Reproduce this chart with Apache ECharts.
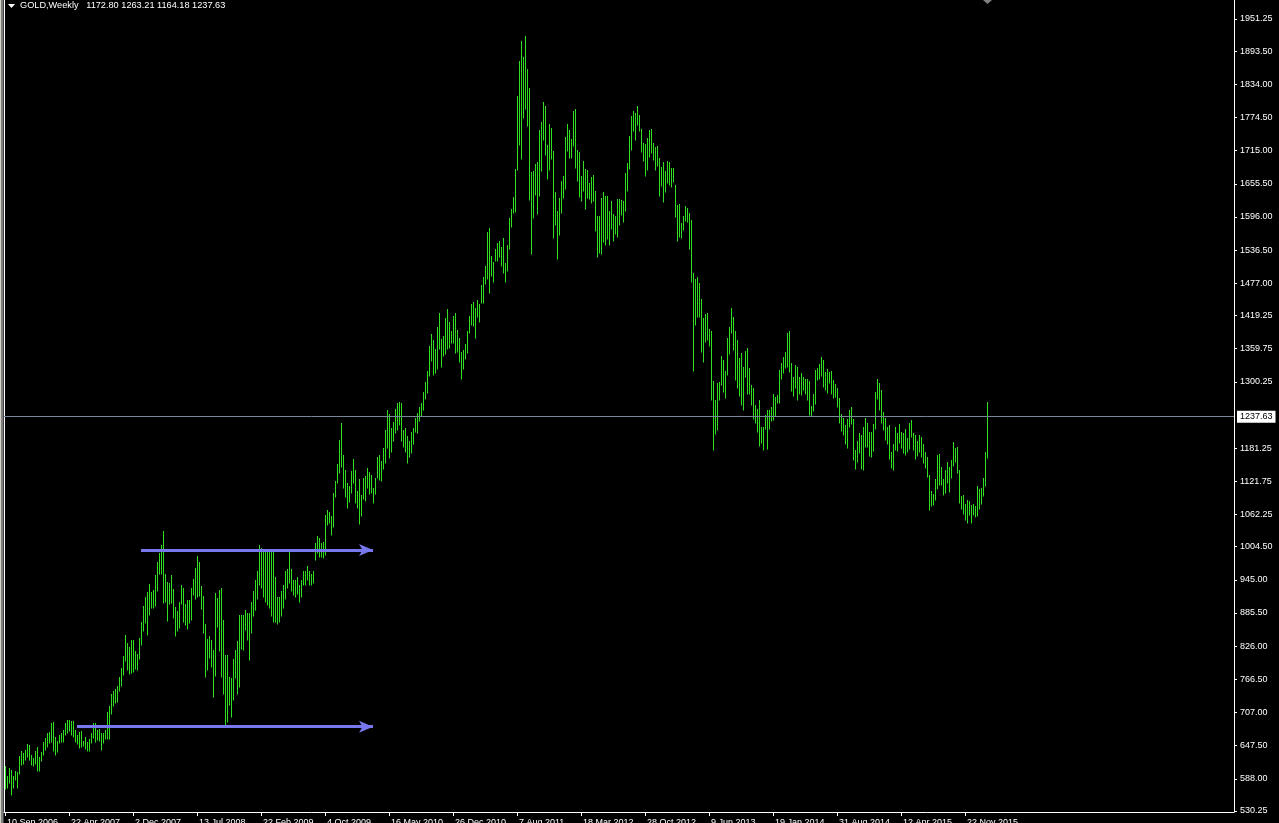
<!DOCTYPE html>
<html><head><meta charset="utf-8">
<script src="https://cdn.jsdelivr.net/npm/echarts@6/dist/echarts.min.js"></script>
<style>html,body{margin:0;padding:0;background:#000;overflow:hidden}#c{width:1279px;height:823px}</style>
</head><body><div id="c"></div>
<script>
const chartTitle = 'GOLD,Weekly';
const lastBar = [1172.80, 1263.21, 1164.18, 1237.63]; // open, high, low, close
const dateLabels = ['10 Sep 2006','22 Apr 2007','2 Dec 2007','13 Jul 2008','22 Feb 2009','4 Oct 2009','16 May 2010','26 Dec 2010','7 Aug 2011','18 Mar 2012','28 Oct 2012','9 Jun 2013','19 Jan 2014','31 Aug 2014','12 Apr 2015','22 Nov 2015'];
const weeksPerLabel = 32;
const totalSlots = 615;
const priceTicks = [1951.25,1893.50,1834.00,1774.50,1715.00,1655.50,1596.00,1536.50,1477.00,1419.25,1359.75,1300.25,1181.25,1121.75,1062.25,1004.50,945.00,885.50,826.00,766.50,707.00,647.50,588.00,530.25];
const priceMin = 528.46, priceMax = 1985.34;

const highs = [
611,593,608,604,593,602,600,629,638,634,
640,650,648,631,625,638,645,627,636,654,
661,671,672,688,690,663,656,667,671,676,
688,693,693,691,691,676,667,672,674,656,
663,654,660,671,688,688,676,677,671,671,
676,708,719,740,745,749,754,770,787,808,
846,832,825,837,837,818,812,840,869,898,
914,923,937,923,927,954,977,993,1007,1032,
956,941,939,954,929,896,889,905,936,930,
902,909,909,930,946,967,987,977,934,916,
866,839,845,837,820,921,912,927,930,873,
810,810,771,769,803,819,835,882,882,882,
891,886,886,905,925,945,960,1007,1003,1000,
998,1000,1000,999,998,950,915,915,925,935,
960,965,995,965,945,945,950,935,945,960,
960,970,960,955,960,1011,1024,1020,1011,1012,
1061,1070,1067,1060,1101,1122,1153,1196,1226,1169,
1142,1119,1114,1140,1162,1142,1104,1126,1097,1128,
1131,1146,1138,1133,1110,1128,1165,1169,1158,1182,
1214,1250,1243,1218,1228,1252,1263,1264,1263,1214,
1218,1203,1194,1210,1218,1235,1244,1255,1263,1282,
1300,1320,1364,1386,1375,1359,1399,1424,1377,1383,
1415,1431,1408,1391,1418,1424,1393,1379,1354,1358,
1368,1391,1418,1440,1443,1433,1447,1440,1474,1488,
1508,1569,1576,1526,1515,1539,1549,1553,1542,1558,
1513,1546,1594,1610,1632,1682,1813,1876,1912,1883,
1921,1862,1827,1677,1679,1691,1695,1752,1767,1802,
1795,1725,1763,1756,1714,1641,1607,1630,1661,1670,
1740,1763,1752,1736,1786,1790,1716,1713,1670,1696,
1682,1680,1657,1668,1671,1643,1598,1598,1630,1641,
1634,1634,1607,1625,1601,1598,1628,1628,1626,1625,
1675,1693,1741,1777,1786,1782,1795,1779,1754,1729,
1727,1738,1752,1754,1729,1722,1724,1702,1686,1695,
1679,1696,1695,1684,1684,1653,1617,1619,1585,1598,
1616,1612,1603,1591,1496,1485,1488,1478,1449,1415,
1422,1424,1395,1391,1302,1268,1298,1300,1347,1339,
1320,1379,1399,1433,1417,1391,1375,1343,1352,1327,
1356,1361,1325,1295,1290,1259,1252,1268,1219,1219,
1241,1250,1250,1255,1278,1273,1277,1321,1334,1345,
1354,1388,1391,1334,1309,1330,1327,1309,1316,1309,
1305,1305,1302,1257,1278,1321,1325,1332,1345,1339,
1318,1323,1318,1320,1304,1297,1290,1271,1243,1236,
1223,1234,1250,1255,1234,1178,1194,1209,1205,1219,
1236,1226,1210,1210,1225,1282,1305,1298,1286,1247,
1236,1219,1223,1174,1189,1219,1209,1225,1210,1208,
1216,1200,1226,1232,1208,1205,1194,1205,1201,1189,
1174,1165,1133,1104,1099,1126,1169,1171,1147,1126,
1142,1156,1147,1160,1192,1181,1183,1142,1096,1097,
1081,1088,1086,1079,1081,1077,1113,1108,1110,1128,
1174,1263.21
];
const lows = [
570,572,581,559,571,585,572,597,613,615,
622,627,622,613,611,615,602,602,620,631,
640,645,652,654,638,631,636,652,654,654,
667,671,674,667,663,654,650,643,645,647,
641,638,638,652,661,654,658,656,640,652,
660,660,660,704,719,724,726,745,755,775,
800,784,776,778,780,785,784,803,828,853,
867,846,882,894,894,898,925,956,956,904,
905,871,902,904,876,845,853,858,902,869,
864,857,867,873,917,910,914,916,893,850,
771,783,805,788,735,773,860,818,771,740,
683,690,720,699,729,769,740,753,821,819,
855,837,801,850,880,890,910,935,930,915,
905,900,895,880,870,870,865,870,880,895,
910,930,940,925,918,915,920,905,915,935,
935,945,935,935,940,981,993,986,986,985,
990,1043,1047,1026,1040,1094,1119,1137,1148,1110,
1094,1074,1085,1101,1119,1083,1074,1045,1060,1090,
1087,1110,1099,1101,1083,1099,1128,1124,1122,1144,
1155,1182,1164,1174,1194,1209,1214,1223,1194,1183,
1174,1155,1165,1173,1189,1210,1208,1230,1239,1250,
1269,1280,1311,1338,1313,1316,1323,1359,1327,1347,
1350,1359,1361,1370,1370,1352,1354,1336,1305,1323,
1341,1352,1388,1402,1400,1379,1417,1408,1442,1442,
1476,1485,1460,1490,1480,1517,1517,1524,1508,1495,
1480,1500,1539,1578,1603,1605,1680,1725,1700,1774,
1790,1760,1627,1530,1594,1635,1601,1634,1679,1734,
1707,1664,1680,1700,1558,1581,1520,1564,1603,1630,
1646,1714,1702,1702,1724,1684,1660,1632,1625,1643,
1610,1630,1628,1621,1625,1571,1524,1531,1529,1551,
1546,1557,1546,1574,1553,1566,1560,1582,1600,1587,
1607,1643,1682,1716,1750,1734,1761,1750,1713,1697,
1670,1680,1704,1711,1698,1680,1687,1634,1652,1623,
1641,1657,1653,1650,1659,1596,1553,1560,1558,1573,
1589,1587,1539,1479,1320,1402,1417,1417,1354,1336,
1372,1375,1365,1268,1178,1207,1214,1268,1295,1282,
1271,1313,1350,1388,1358,1304,1289,1275,1259,1250,
1309,1278,1278,1259,1234,1226,1210,1185,1191,1178,
1216,1180,1216,1230,1232,1239,1262,1262,1305,1316,
1325,1327,1318,1284,1275,1289,1268,1278,1277,1286,
1278,1268,1241,1239,1248,1261,1304,1305,1311,1291,
1286,1280,1298,1278,1271,1273,1255,1226,1212,1205,
1189,1182,1220,1225,1160,1144,1157,1173,1144,1142,
1183,1183,1167,1165,1176,1216,1270,1250,1226,1214,
1196,1189,1162,1146,1142,1178,1176,1191,1182,1173,
1169,1175,1180,1201,1178,1162,1167,1175,1165,1155,
1146,1129,1070,1077,1079,1088,1108,1115,1115,1097,
1101,1119,1103,1128,1149,1156,1137,1083,1072,1063,
1052,1047,1061,1047,1061,1058,1059,1072,1081,1095,
1113,1164.18
];
// annotation arrows: [startWeek, endWeek, price]
const arrowLines = [[67.5, 183.5, 998.5], [36, 183.5, 681.5]];

const FONT = 'Tahoma, "Liberation Sans", Arial, sans-serif';
const BAR = '#30e020';
const chart = echarts.init(document.getElementById('c'), null, {renderer: 'canvas'});
const cats = Array.from({length: totalSlots}, (_, i) => String(i));
const lastIdx = (dateLabels.length - 1) * weeksPerLabel;
const showTick = (i) => i % weeksPerLabel === 0 && i <= lastIdx;
const ohlcData = highs.map((h, i) => [i, lows[i], h]);

chart.setOption({
  backgroundColor: '#000',
  animation: false,
  title: {
    text: chartTitle + '   ' + lastBar.map(v => v.toFixed(2)).join(' '),
    left: 20, top: 1, padding: 0,
    textStyle: {color: '#fff', fontSize: 9.2, fontWeight: 'normal', fontFamily: FONT}
  },
  grid: {left: 4, right: 45, top: 0, bottom: 11, containLabel: false, outerBoundsMode: 'none'},
  xAxis: {
    type: 'category', data: cats, boundaryGap: true,
    axisLine: {show: true, lineStyle: {color: '#fff', width: 1}},
    axisTick: {show: true, alignWithLabel: true, interval: showTick, length: 4, lineStyle: {color: '#fff'}},
    axisLabel: {
      show: true, interval: showTick, align: 'left', margin: 6, padding: [0, 0, 0, 2],
      color: '#fff', fontSize: 9, fontFamily: FONT, hideOverlap: false,
      formatter: (v, idx) => dateLabels[idx / weeksPerLabel] || ''
    },
    splitLine: {show: false}
  },
  yAxis: [{
    type: 'value', position: 'right', min: priceMin, max: priceMax,
    axisLine: {show: true, lineStyle: {color: '#fff', width: 1}},
    axisTick: {show: true, length: 3, customValues: priceTicks, lineStyle: {color: '#fff'}},
    axisLabel: {show: true, customValues: priceTicks, margin: 6, color: '#fff', fontSize: 9, fontFamily: FONT,
      formatter: v => Number(v).toFixed(2)},
    splitLine: {show: false}
  }, {
    type: 'value', position: 'left', min: priceMin, max: priceMax,
    axisLine: {show: true, lineStyle: {color: '#fff', width: 1}},
    axisTick: {show: false}, axisLabel: {show: false}, splitLine: {show: false}
  }],
  series: [{
    type: 'custom', data: ohlcData, clip: true, z: 2,
    encode: {x: 0, y: [1, 2]},
    renderItem: (params, api) => {
      const i = api.value(0);
      const lo = api.coord([i, api.value(1)]);
      const hi = api.coord([i, api.value(2)]);
      const x = Math.round(lo[0]) + 0.5;
      return {type: 'line', shape: {x1: x, y1: Math.round(lo[1]) + 0.5, x2: x, y2: Math.round(hi[1])},
        style: {stroke: BAR, lineWidth: 1}};
    }
  }, {
    type: 'line', data: [], z: 5, silent: true,
    markLine: {
      silent: true, symbol: 'none', animation: false,
      data: [{
        yAxis: lastBar[3],
        lineStyle: {color: '#778899', width: 1, type: 'solid'},
        label: {show: true, position: 'end', distance: 3, formatter: () => lastBar[3].toFixed(2),
          backgroundColor: '#fff', color: '#000', padding: [2, 3, 1, 3], fontSize: 9, fontFamily: FONT}
      }].concat(arrowLines.map(a => [
        {coord: [a[0], a[2]], symbol: 'none',
          lineStyle: {color: '#7878ee', width: 3, type: 'solid'}, label: {show: false}},
        {coord: [a[1], a[2]], symbol: 'arrow', symbolSize: [9, 14]}
      ]))
    }
  }],
  graphic: [
    {type: 'polygon', shape: {points: [[8, 4], [15, 4], [11.5, 8]]}, style: {fill: '#fff'}},
    {type: 'polygon', shape: {points: [[983, 0], [992, 0], [987.5, 4]]}, style: {fill: '#808080'}},
    {type: 'rect', shape: {x: 0, y: 0, width: 1, height: 823}, style: {fill: '#d4d0c8'}},
    {type: 'rect', shape: {x: 1, y: 0, width: 2, height: 823}, style: {fill: '#808080'}},
    {type: 'rect', shape: {x: 3, y: 0, width: 1, height: 823}, style: {fill: '#404040'}}
  ]
});
</script></body></html>
